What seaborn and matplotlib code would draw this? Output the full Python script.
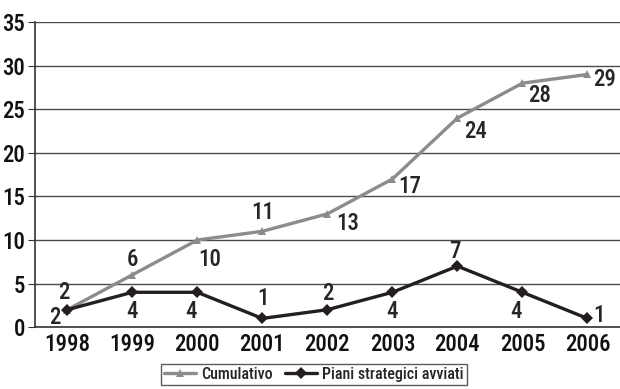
import pandas as pd
import matplotlib.pyplot as plt
import seaborn as sns

years = ['1998', '1999', '2000', '2001', '2002', '2003', '2004', '2005', '2006']
cumulativo = [2, 6, 10, 11, 13, 17, 24, 28, 29]
piani = [2, 4, 4, 1, 2, 4, 7, 4, 1]

# label offsets in pixels (dx, dy) for each point
off_cum = [(-3, 17), (0, 15), (12, -19), (0, 19), (20, -10), (17, -7), (18, -13), (17, -12), (17, -5)]
off_pia = [(-12, -8), (0, -19), (-6, -19), (1, 20), (0, 16), (0, -19), (-3, 15), (-6, -19), (12, 3)]

sns.set_style('white')
plt.rcParams['font.family'] = ['Roboto Condensed', 'DejaVu Sans']
plt.rcParams['font.stretch'] = 'condensed'
plt.rcParams['font.weight'] = 'medium'

data = pd.DataFrame({
    'anno': years * 2,
    'valore': cumulativo + piani,
    'serie': ['Cumulativo'] * 9 + ['Piani strategici avviati'] * 9,
})

fig = plt.figure(figsize=(6.2, 3.89), dpi=100)
ax = fig.add_axes([0.056, 0.159, 0.944, 0.784])

sns.lineplot(data=data, x='anno', y='valore', hue='serie', style='serie',
             palette=['#8c8c8c', '#231f20'], markers=['^', 'D'], dashes=False,
             markersize=6, linewidth=2.4, markeredgewidth=0, ax=ax)

for i, (v, o) in enumerate(zip(cumulativo, off_cum)):
    ax.annotate(str(v), (i, v), xytext=o, textcoords='offset pixels',
                ha='center', va='center', fontsize=16.5)
for i, (v, o) in enumerate(zip(piani, off_pia)):
    ax.annotate(str(v), (i, v), xytext=o, textcoords='offset pixels',
                ha='center', va='center', fontsize=16.5)

ax.set_xlim(-0.5, 8.5)
ax.set_ylim(0, 35)
ax.set_yticks(range(0, 36, 5))
ax.yaxis.grid(True, color='#4a4a4a', linewidth=1)
ax.set_axisbelow(True)
ax.set_xlabel('')
ax.set_ylabel('')
for s in ['top', 'right']:
    ax.spines[s].set_visible(False)
for s in ['left', 'bottom']:
    ax.spines[s].set_color('#333333')
    ax.spines[s].set_linewidth(1.2)

ax.set_xticks(range(9))
ax.set_xticklabels(years)
ax.set_xticks([i + 0.5 for i in range(-1, 9)], minor=True)
ax.tick_params(axis='x', which='major', length=0, labelsize=16.5, pad=4, labelcolor='#111111')
ax.tick_params(axis='x', which='minor', length=5, color='#333333', direction='out')
ax.tick_params(axis='y', length=5, color='#333333', labelsize=16.5, pad=2, left=True,
               labelcolor='#111111')

leg = ax.legend(loc='upper center', bbox_to_anchor=(0.477, -0.12), ncol=2,
                frameon=True, fancybox=False, fontsize=11.5, handlelength=2.0,
                handletextpad=0.3, columnspacing=0.8, borderpad=0.2,
                borderaxespad=0, edgecolor='#333333')
leg.get_frame().set_linewidth(1)

fig.savefig('out.png', dpi=100)
